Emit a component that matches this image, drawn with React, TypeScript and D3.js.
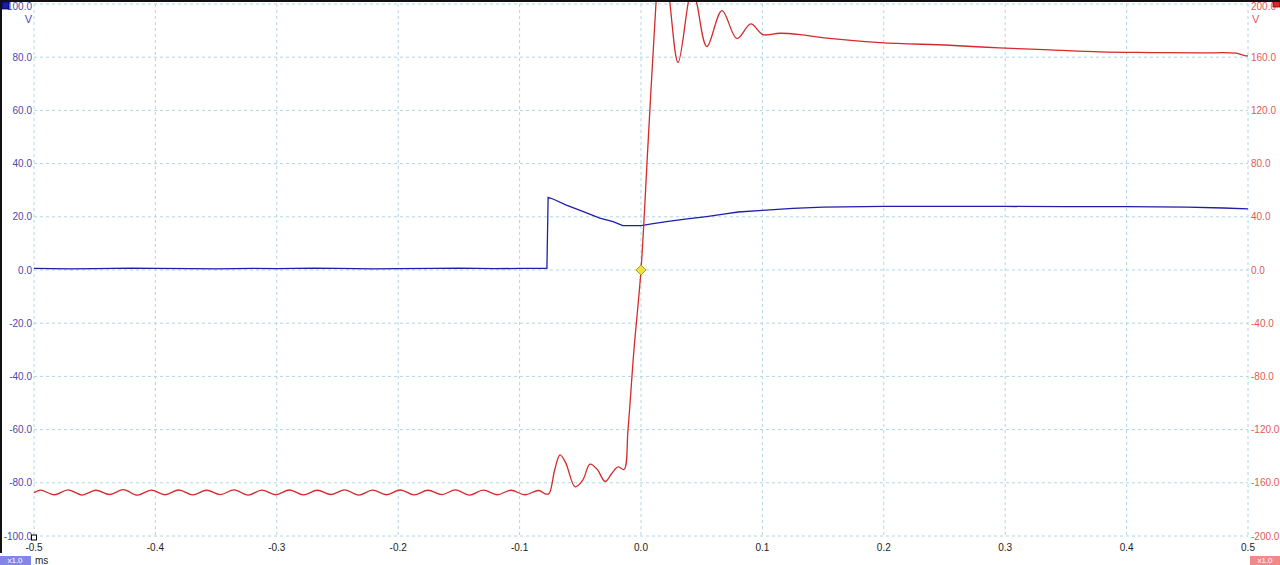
import React from "react";
import * as d3 from "d3";

// ---- data ----
const xTicks = [-0.5, -0.4, -0.3, -0.2, -0.1, 0.0, 0.1, 0.2, 0.3, 0.4, 0.5];
const leftTicks = [100, 80, 60, 40, 20, 0, -20, -40, -60, -80, -100];
const rightTicks = [200, 160, 120, 80, 40, 0, -40, -80, -120, -160, -200];

// Blue channel (left axis, V) vs time (ms)
const blueT = [
  -0.5, -0.47, -0.45, -0.42, -0.4, -0.37, -0.35, -0.32, -0.3, -0.27, -0.25, -0.22, -0.2, -0.17, -0.15, -0.12, -0.1, -0.0775,
  -0.0765, -0.072, -0.062, -0.048, -0.034, -0.023, -0.015, 0.0, 0.01, 0.021, 0.038, 0.054, 0.068, 0.08, 0.1, 0.125, 0.15,
  0.2, 0.25, 0.3, 0.35, 0.4, 0.45, 0.48, 0.5,
];
const blueV = [
  0.6, 0.4, 0.5, 0.7, 0.6, 0.5, 0.4, 0.6, 0.5, 0.7, 0.6, 0.4, 0.5, 0.6, 0.7, 0.5, 0.6, 0.6,
  27.3, 26.6, 24.5, 22.0, 19.5, 18.2, 16.7, 16.7, 17.4, 18.2, 19.2, 20.1, 21.0, 21.8, 22.4, 23.2, 23.6,
  23.9, 23.9, 23.9, 23.8, 23.8, 23.6, 23.3, 23.0,
];

// Red channel (right axis, V) vs time (ms)
const redT = [
  -0.5, -0.4947, -0.4833, -0.4719, -0.4605, -0.4491, -0.4377, -0.4263, -0.4149, -0.4035, -0.3921,
  -0.3807, -0.3693, -0.3579, -0.3465, -0.3351, -0.3237, -0.3123, -0.3009, -0.2895, -0.2781,
  -0.2667, -0.2553, -0.2439, -0.2325, -0.2211, -0.2097, -0.1983, -0.1869, -0.1755, -0.1641,
  -0.1527, -0.1413, -0.1299, -0.1185, -0.1071, -0.0957, -0.0843, -0.0785,
  -0.0757, -0.071, -0.0667, -0.062, -0.0543, -0.048, -0.042, -0.036, -0.0296, -0.024, -0.0189, -0.014,
  -0.0107, -0.0058, 0.0, 0.0058, 0.0123, 0.0175, 0.0239, 0.0305, 0.0387, 0.042, 0.0461, 0.0543, 0.0667,
  0.079, 0.0905, 0.1004, 0.1144, 0.131, 0.151, 0.197, 0.254, 0.295, 0.337, 0.378, 0.42, 0.46, 0.49, 0.497, 0.5,
];
const redV = [
  -167.5, -165.5, -169.0, -165.3, -169.2, -165.6, -168.8, -165.2, -169.3, -165.5, -169.0,
  -165.4, -169.1, -165.6, -168.9, -165.3, -169.2, -165.5, -169.0, -165.4, -169.1,
  -165.6, -168.8, -165.3, -169.2, -165.5, -169.0, -165.4, -169.1, -165.6, -168.9,
  -165.3, -169.2, -165.5, -169.0, -165.6, -169.0, -165.8, -168.5,
  -168.0, -150.0, -139.0, -145.0, -163.0, -158.0, -146.0, -150.0, -159.0, -153.0, -148.0, -150.0,
  -120.0, -60.0, 0.0, 95.0, 200.0, 262.0, 200.0, 156.0, 200.0, 215.0, 200.0, 168.0, 195.0,
  174.0, 185.0, 177.0, 178.0, 177.0, 174.5, 171.0, 169.0, 167.0, 165.5, 164.0, 163.5, 163.2, 163.0, 161.2, 161.0,
];

const W = 1280;
const H = 565;

export default function App() {
  const x = d3.scaleLinear().domain([-0.5, 0.5]).range([34, 1248]);
  const yL = d3.scaleLinear().domain([-100, 100]).range([536, 4]);
  const yR = d3.scaleLinear().domain([-200, 200]).range([536, 4]);

  const blueLine = d3
    .line<number>()
    .x((_, i) => x(blueT[i]))
    .y((v) => yL(v))
    .curve(d3.curveLinear)(blueV) as string;

  const redLine = d3
    .line<number>()
    .x((_, i) => x(redT[i]))
    .y((v) => yR(v))
    .curve(d3.curveCatmullRom.alpha(0.5))(redV) as string;

  const font = "'Liberation Sans', Arial, sans-serif";
  const gridColor = "#afd6e4";
  const leftColor = "#4a4ab0";
  const rightColor = "#e05a5a";
  const fs = 10;

  const labelY = (y: number) => Math.max(y, 6);

  return (
    <svg
      width={W}
      height={H}
      style={{ position: "fixed", left: 0, top: 0, background: "#fff" }}
      fontFamily={font}
    >
      <defs>
        <clipPath id="plotClip">
          <rect x={34} y={2} width={1214} height={545} />
        </clipPath>
      </defs>
      <rect x={0} y={0} width={W} height={H} fill="#fff" />

      {/* grid */}
      {xTicks.map((t) => (
        <line
          key={"gx" + t}
          x1={x(t)}
          x2={x(t)}
          y1={yL(100)}
          y2={yL(-100)}
          stroke={gridColor}
          strokeWidth={1}
          strokeDasharray="3,3"
        />
      ))}
      {leftTicks.map((t) => (
        <line
          key={"gy" + t}
          x1={x(-0.5)}
          x2={x(0.5)}
          y1={yL(t)}
          y2={yL(t)}
          stroke={gridColor}
          strokeWidth={1}
          strokeDasharray="3,3"
        />
      ))}

      {/* traces */}
      <g clipPath="url(#plotClip)">
        <path d={blueLine} fill="none" stroke="#1e1ea8" strokeWidth={1.3} />
        <path d={redLine} fill="none" stroke="#d42a2a" strokeWidth={1.3} />
      </g>

      {/* trigger marker */}
      <path
        d={`M${x(0)},${yL(0) - 5} L${x(0) + 5},${yL(0)} L${x(0)},${yL(0) + 5} L${x(0) - 5},${yL(0)} Z`}
        fill="#f2e23a"
        stroke="#b09a20"
        strokeWidth={1}
      />

      {/* left axis labels */}
      {leftTicks.map((t) => (
        <text
          key={"lt" + t}
          x={32}
          y={labelY(yL(t))}
          textAnchor="end"
          dominantBaseline="central"
          fontSize={fs}
          fill={leftColor}
        >
          {t.toFixed(1)}
        </text>
      ))}
      <text x={32} y={19} textAnchor="end" dominantBaseline="central" fontSize={fs + 1} fill={leftColor}>
        V
      </text>

      {/* right axis labels */}
      {rightTicks.map((t) => (
        <text
          key={"rt" + t}
          x={1251}
          y={labelY(yR(t))}
          textAnchor="start"
          dominantBaseline="central"
          fontSize={fs}
          fill={rightColor}
        >
          {t.toFixed(1)}
        </text>
      ))}
      <text x={1252} y={19} textAnchor="start" dominantBaseline="central" fontSize={fs + 1} fill={rightColor}>
        V
      </text>

      {/* x axis labels */}
      {xTicks.map((t) => (
        <text
          key={"xt" + t}
          x={x(t)}
          y={547}
          textAnchor="middle"
          dominantBaseline="central"
          fontSize={fs}
          fill="#222"
        >
          {t.toFixed(1)}
        </text>
      ))}

      {/* channel badges */}
      <rect x={2} y={2} width={7} height={7} fill="#1a1ab0" stroke="#000060" strokeWidth={0.8} />
      <rect x={1273} y={0} width={7} height={7} fill="#d42a2a" stroke="#800000" strokeWidth={0.8} />
      <rect x={31.5} y={535} width={5} height={5} fill="#fff" stroke="#000" strokeWidth={1} />

      <rect x={0} y={556} width={31} height={9} fill="#8585e8" />
      <text x={15} y={560.5} textAnchor="middle" dominantBaseline="central" fontSize={8} fill="#fff">
        x1.0
      </text>
      <text x={35} y={560.5} dominantBaseline="central" fontSize={10} fill="#222">
        ms
      </text>
      <rect x={1250} y={556} width={30} height={9} fill="#f08a8a" />
      <text x={1265} y={560.5} textAnchor="middle" dominantBaseline="central" fontSize={8} fill="#fff">
        x1.0
      </text>

      {/* window frame edges */}
      <rect x={0} y={0} width={W} height={2} fill="#111" />
      <rect x={0} y={0} width={2} height={553} fill="#111" />
    </svg>
  );
}
